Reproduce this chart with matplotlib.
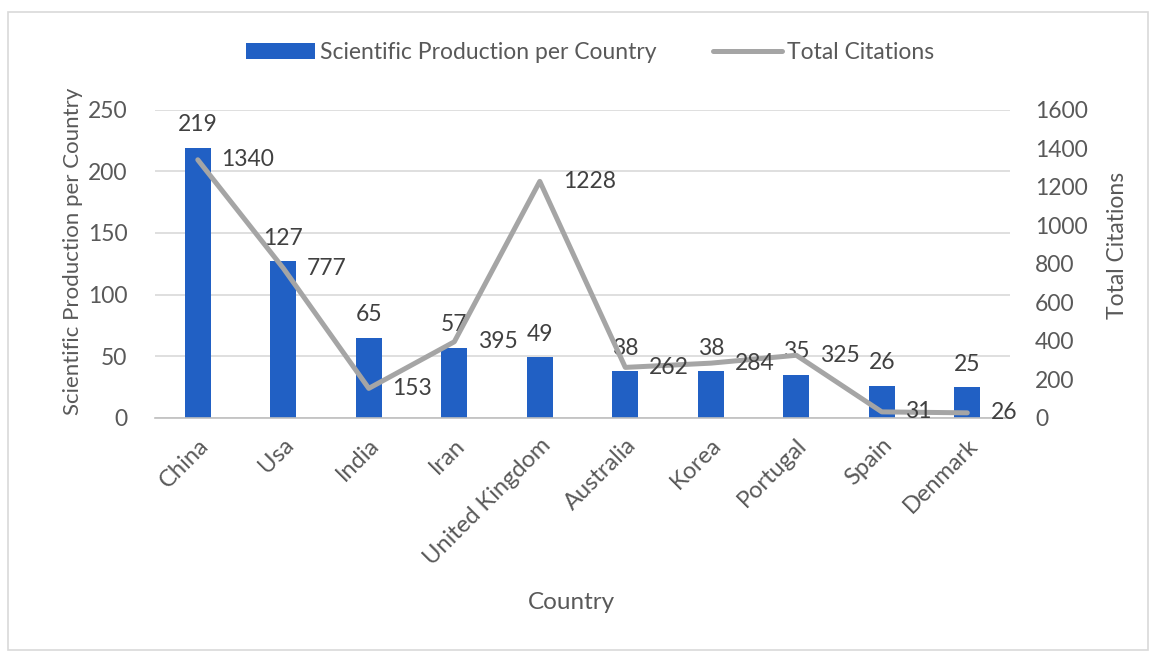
import matplotlib
matplotlib.use("Agg")
import matplotlib.pyplot as plt
from matplotlib.patches import Rectangle
import numpy as np

countries = ["China", "Usa", "India", "Iran", "United Kingdom", "Australia",
             "Korea", "Portugal", "Spain", "Denmark"]
production = [219, 127, 65, 57, 49, 38, 38, 35, 26, 25]
citations = [1340, 777, 153, 395, 1228, 262, 284, 325, 31, 26]

plt.rcParams['font.family'] = ['Lato', 'DejaVu Sans']
txt = '#595959'
grid = '#d9d9d9'

fig = plt.figure(figsize=(11.57, 6.57), dpi=100)
fig.patches.append(Rectangle((0.007, 0.011), 0.985, 0.971, transform=fig.transFigure,
                             fill=False, edgecolor='#d9d9d9', linewidth=1.2))

ax = fig.add_axes([0.134, 0.364, 0.739, 0.469])
x = np.arange(len(countries))
bars = ax.bar(x, production, width=0.3, color='#2160C4', zorder=2,
              label='Scientific Production per Country')
ax.set_ylim(0, 250)
ax.set_xlim(-0.5, len(countries) - 0.5)
ax.set_yticks(range(0, 251, 50))
ax.grid(axis='y', color=grid, linewidth=1.2, zorder=0)
for s in ['top', 'right', 'left']:
    ax.spines[s].set_visible(False)
ax.spines['bottom'].set_color('#bfbfbf')
ax.spines['bottom'].set_linewidth(1.2)
ax.tick_params(axis='both', length=0, colors=txt, labelsize=16.5)
ax.set_xticks(x)
ax.set_xticklabels(countries, rotation=45, ha='right', rotation_mode='anchor',
                   fontsize=17)
ax.tick_params(axis='x', pad=12)
ax.tick_params(axis='y', pad=20)
ax.set_ylabel('Scientific Production per Country', color=txt, fontsize=16)
ax.yaxis.set_label_coords(-0.084, 0.54)
ax.set_xlabel('Country', color=txt, fontsize=17.5)
ax.xaxis.set_label_coords(0.487, -0.565)

for xi, v in zip(x, production):
    ax.annotate(str(v), (xi, v), xytext=(0, 9), textcoords='offset points',
                ha='center', va='bottom', fontsize=16.5, color='#404040')

ax2 = ax.twinx()
line, = ax2.plot(x, citations, color='#a5a5a5', linewidth=3.6, zorder=3,
                 label='Total Citations', solid_capstyle='round')
ax2.set_ylim(0, 1600)
ax2.set_yticks(range(0, 1601, 200))
for s in ['top', 'right', 'left', 'bottom']:
    ax2.spines[s].set_visible(False)
ax2.tick_params(axis='y', length=0, colors=txt, labelsize=16.5, pad=18)
ax2.set_ylabel('Total Citations', color=txt, fontsize=16.5)
ax2.yaxis.set_label_coords(1.113, 0.56)

for xi, v in zip(x, citations):
    ax2.annotate(str(v), (xi, v), xytext=(17, 0), textcoords='offset points',
                 ha='left', va='center', fontsize=16.5, color='#404040')

fig.legend(handles=[bars, line], loc='center', bbox_to_anchor=(0.51, 0.92),
           ncol=2, frameon=False, fontsize=16.5, labelcolor=txt,
           handlelength=3.0, columnspacing=2.5, handletextpad=0.2)

fig.savefig('out.png', dpi=100)
